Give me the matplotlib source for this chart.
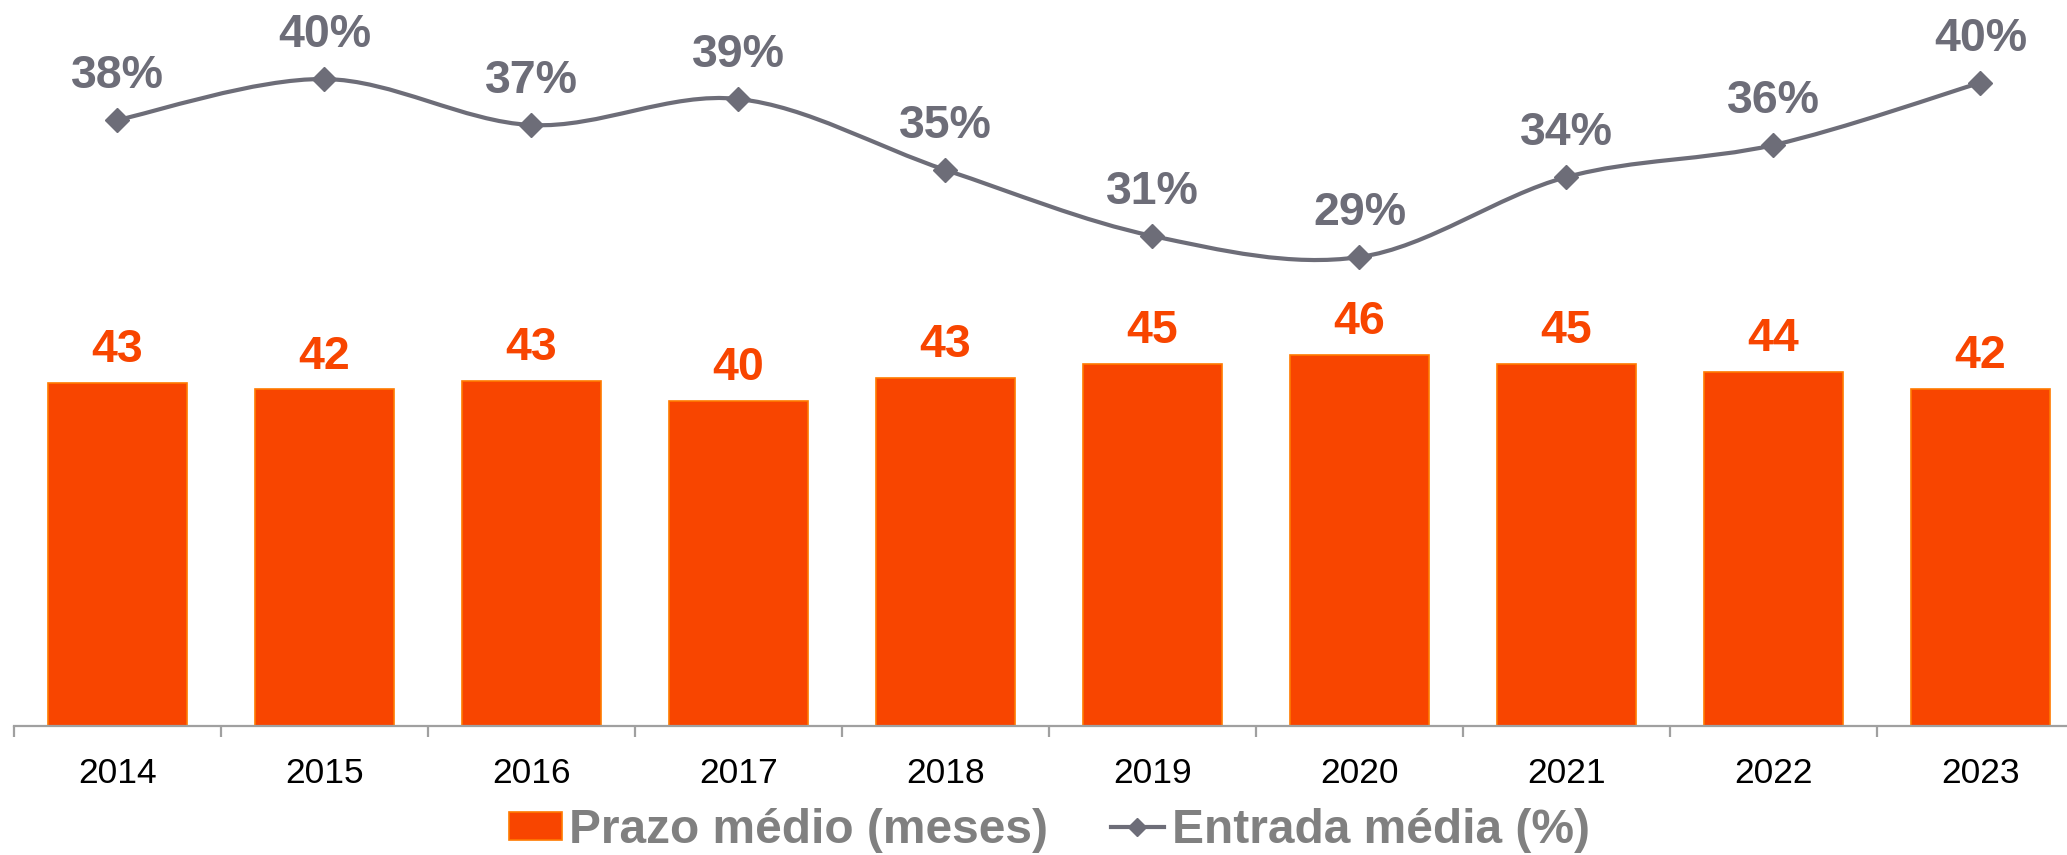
import matplotlib
matplotlib.use('Agg')
import matplotlib.pyplot as plt
from matplotlib.path import Path
from matplotlib.patches import PathPatch, Patch
from matplotlib.lines import Line2D

plt.rcParams['font.family'] = ['Liberation Sans', 'DejaVu Sans']

# data
years = ['2014', '2015', '2016', '2017', '2018', '2019', '2020', '2021', '2022', '2023']
prazo = [42.65, 41.9, 42.94, 40.45, 43.35, 45.05, 46.23, 45.05, 44.1, 41.97]        # meses
prazo_labels = ['43', '42', '43', '40', '43', '45', '46', '45', '44', '42']
entrada = [37.67, 40.15, 37.36, 38.94, 34.64, 30.64, 29.36, 34.21, 36.15, 39.93]   # %
entrada_labels = ['38%', '40%', '37%', '39%', '35%', '31%', '29%', '34%', '36%', '40%']

bar_color = '#F84500'
bar_edge = '#FF7A00'
line_color = '#6D6D78'
legend_text = '#808080'

fig = plt.figure(figsize=(20.67, 8.55), dpi=100)
ax = fig.add_axes([14 / 2067, 1 - 726 / 855, 2070 / 2067, 726 / 855])
ax2 = ax.twinx()

x = list(range(len(years)))

# bars
ax.bar(x, prazo, width=0.672, color=bar_color, edgecolor=bar_edge, linewidth=1.2, zorder=2)
for xi, h, lab in zip(x, prazo, prazo_labels):
    ax.annotate(lab, (xi, h), xytext=(0, 15), textcoords='offset points',
                ha='center', va='baseline', fontsize=33.5, fontweight='bold', color=bar_color)

ax.set_xlim(-0.5, len(years) - 0.5)
ax.set_ylim(0, 726 / 8.035)

# smoothed line (Excel style bezier through the points)
pts = list(zip(x, entrada))
verts = [pts[0]]
codes = [Path.MOVETO]
for i in range(len(pts) - 1):
    p0 = pts[i - 1] if i > 0 else pts[i]
    p1 = pts[i]
    p2 = pts[i + 1]
    p3 = pts[i + 2] if i + 2 < len(pts) else pts[i + 1]
    c1 = (p1[0] + (p2[0] - p0[0]) / 6, p1[1] + (p2[1] - p0[1]) / 6)
    c2 = (p2[0] - (p3[0] - p1[0]) / 6, p2[1] - (p3[1] - p1[1]) / 6)
    verts += [c1, c2, p2]
    codes += [Path.CURVE4] * 3
ax2.add_patch(PathPatch(Path(verts, codes), facecolor='none', edgecolor=line_color,
                        linewidth=3.0, zorder=3, clip_on=False))
ax2.plot(x, entrada, linestyle='none', marker='D', markersize=12,
         color=line_color, zorder=4, clip_on=False)
for xi, v, lab in zip(x, entrada, entrada_labels):
    ax2.annotate(lab, (xi, v), xytext=(0, 23), textcoords='offset points',
                 ha='center', va='baseline', fontsize=33.5, fontweight='bold', color=line_color)
ax2.set_ylim((741.5 - 726) / 16.5, 741.5 / 16.5)
ax2.set_yticks([])

# axes styling
for a in (ax, ax2):
    for s in ('top', 'right', 'left'):
        a.spines[s].set_visible(False)
ax2.spines['bottom'].set_visible(False)
ax.spines['bottom'].set_color('#A0A0A0')
ax.spines['bottom'].set_linewidth(1.6)
ax.set_yticks([])
ax.set_xticks(x)
ax.set_xticklabels(years, fontsize=25.5, color='black')
ax.tick_params(axis='x', which='major', length=0, pad=22)
ax.set_xticks([i - 0.5 for i in range(len(years) + 1)], minor=True)
ax.tick_params(axis='x', which='minor', length=8, width=1.6, color='#A0A0A0')

# legend
handles = [
    Patch(facecolor=bar_color, edgecolor=bar_edge, linewidth=1.2),
    Line2D([], [], color=line_color, linewidth=3.0, marker='D', markersize=9),
]
fig.legend(handles, ['Prazo médio (meses)', 'Entrada média (%)'],
           loc='center', bbox_to_anchor=(0.5075, 0.029), ncol=2, frameon=False,
           borderpad=0, handlelength=1.12, handleheight=0.52,
           handletextpad=0.15, columnspacing=1.3, labelcolor=legend_text,
           prop={'weight': 'bold', 'size': 34.5})

fig.savefig('out.png', dpi=100)
